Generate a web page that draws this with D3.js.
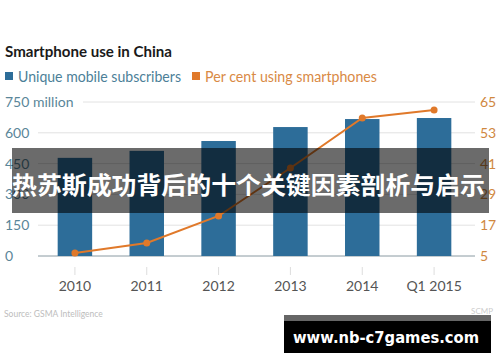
<!DOCTYPE html>
<html>
<head>
<meta charset="utf-8">
<script src="https://cdn.jsdelivr.net/npm/d3@7"></script>
<style>
  html, body { margin: 0; padding: 0; background: #fff; }
  svg { display: block; font-family: Lato, "Open Sans", sans-serif; }
</style>
</head>
<body>
<div id="chart"></div>
<script>
const years = ["2010", "2011", "2012", "2013", "2014", "Q1 2015"];
const subscribers = [478, 512, 560, 628, 667, 672];
const smartphoneShare = [6.2, 10.1, 20.6, 39.3, 58.8, 61.9];
const leftTicks = [0, 150, 300, 450, 600, 750];
const rightTicks = [5, 17, 29, 41, 53, 65];

const W = 500, H = 362;
const blue = "#2d6d99", orange = "#e0792a";

const svg = d3.select("#chart").append("svg")
  .attr("width", W).attr("height", H);

const x = d3.scaleBand().domain(years).range([39, 470])
  .paddingInner(0.52).paddingOuter(0.26);
const y = d3.scaleLinear().domain([0, 750]).range([256, 102]);
const y2 = d3.scaleLinear().domain([5, 65]).range([256, 102]);

// title + legend
svg.append("text").attr("x", 5).attr("y", 57)
  .attr("textLength", 167).attr("lengthAdjust", "spacingAndGlyphs")
  .style("font-size", "16px").style("font-weight", "bold").attr("fill", "#1a1a1a")
  .text("Smartphone use in China");

const legend = [
  { label: "Unique mobile subscribers", color: blue, text: "#4c7f98", x: 5, w: 163 },
  { label: "Per cent using smartphones", color: orange, text: "#d98a45", x: 192, w: 172 },
];
legend.forEach((l) => {
  svg.append("rect").attr("x", l.x).attr("y", 72).attr("width", 8).attr("height", 8)
    .attr("fill", l.color);
  svg.append("text").attr("x", l.x + 13).attr("y", 82)
    .attr("textLength", l.w).attr("lengthAdjust", "spacingAndGlyphs")
    .style("font-size", "14.5px").attr("fill", l.text).text(l.label);
});

// grid
svg.append("g").selectAll("line").data(leftTicks).join("line")
  .attr("x1", (d) => (d === 750 ? 83 : 38)).attr("x2", 475)
  .attr("y1", (d) => y(d)).attr("y2", (d) => y(d))
  .attr("stroke", (d) => (d === 0 ? "#8a9aa2" : "#e2e2e2"))
  .attr("stroke-width", 1);

// left labels
svg.append("g").selectAll("text").data(leftTicks).join("text")
  .attr("x", 5).attr("y", (d) => y(d) + 5)
  .style("font-size", "14px").attr("fill", "#5a8699")
  .text((d) => (d === 750 ? "750 million" : d));

// right labels
svg.append("g").selectAll("text").data(rightTicks).join("text")
  .attr("x", 480).attr("y", (d) => y2(d) + 5)
  .style("font-size", "14px").attr("fill", "#d0883f")
  .text((d) => d);

// bars
svg.append("g").selectAll("rect").data(years).join("rect")
  .attr("x", (d) => x(d)).attr("width", x.bandwidth())
  .attr("y", (d, i) => y(subscribers[i]))
  .attr("height", (d, i) => y(0) - y(subscribers[i]))
  .attr("fill", blue);

// line
const line = d3.line().x((d, i) => x(years[i]) + x.bandwidth() / 2).y((d) => y2(d));
svg.append("path").datum(smartphoneShare).attr("d", line)
  .attr("fill", "none").attr("stroke", orange).attr("stroke-width", 2);
svg.append("g").selectAll("circle").data(smartphoneShare).join("circle")
  .attr("cx", (d, i) => x(years[i]) + x.bandwidth() / 2).attr("cy", (d) => y2(d))
  .attr("r", 3.5).attr("fill", orange);

// x ticks + labels
const xg = svg.append("g");
xg.selectAll("line").data(years).join("line")
  .attr("x1", (d) => x(d) + x.bandwidth() / 2).attr("x2", (d) => x(d) + x.bandwidth() / 2)
  .attr("y1", 267).attr("y2", 275).attr("stroke", "#ddd");
xg.selectAll("text").data(years).join("text")
  .attr("x", (d) => x(d) + x.bandwidth() / 2).attr("y", 291)
  .attr("text-anchor", "middle").style("font-size", "14px").attr("fill", "#555")
  .text((d) => d);

// source
svg.append("text").attr("x", 4).attr("y", 317)
  .style("font-size", "8.5px").attr("fill", "#bdbdbd").text("Source: GSMA Intelligence");

// overlay banner
svg.append("rect").attr("x", 12).attr("y", 148).attr("width", 477).attr("height", 65)
  .attr("fill", "#000").attr("fill-opacity", 0.58);
svg.append("text").attr("x", 12).attr("y", 194)
  .attr("textLength", 473).attr("lengthAdjust", "spacingAndGlyphs")
  .style("font-family", "'Noto Sans CJK SC', sans-serif")
  .style("font-size", "24px").style("font-weight", "bold").attr("fill", "#fff")
  .text("热苏斯成功背后的十个关键因素剖析与启示");

// watermark
svg.append("rect").attr("x", 284).attr("y", 315).attr("width", 207).attr("height", 6)
  .attr("fill", "#666");
svg.append("rect").attr("x", 284).attr("y", 321).attr("width", 207).attr("height", 32)
  .attr("fill", "#000");
svg.append("text").attr("x", 293).attr("y", 343)
  .attr("textLength", 186).attr("lengthAdjust", "spacingAndGlyphs")
  .style("font-family", "'DejaVu Sans', sans-serif")
  .style("font-size", "16px").style("font-weight", "bold").attr("fill", "#fff")
  .text("www.nb-c7games.com");
svg.append("text").attr("x", 493).attr("y", 314).attr("text-anchor", "end")
  .style("font-size", "8px").attr("fill", "#ccc").text("SCMP");
</script>
</body>
</html>
